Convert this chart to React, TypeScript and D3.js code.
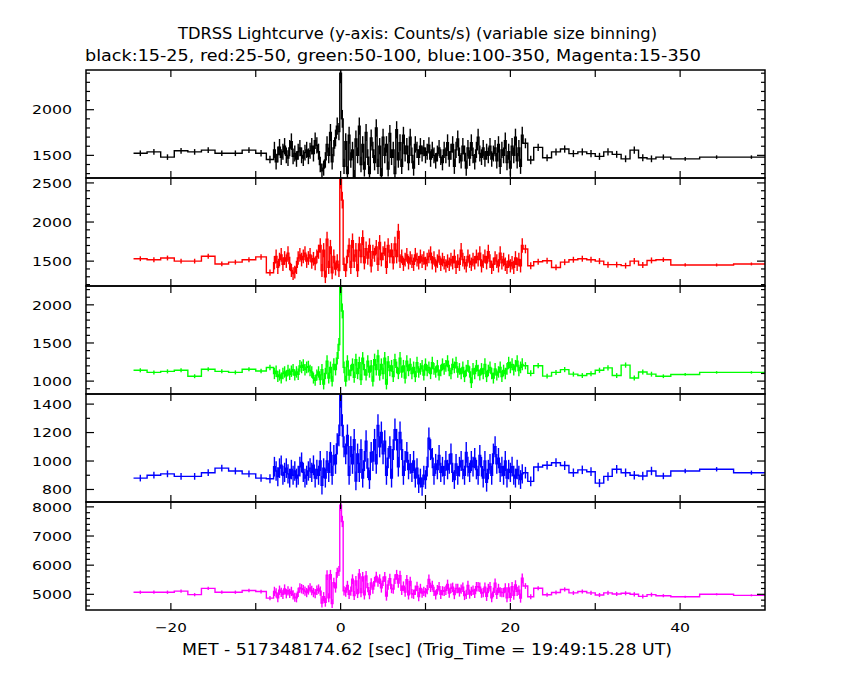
import React from 'react';
import * as d3 from 'd3';

// ---------- bin geometry (seconds from trigger) ----------
const leftEdges = [-24.4, -22.8, -21.2, -19.6, -18.0, -16.4, -14.8, -13.2, -11.6, -10.0, -8.75, -7.9];
const fineStart = -7.9;
const fineWidth = 0.2;
const fineCount = 147;
const rightEdges = [21.5, 22.05, 22.75, 23.8, 24.85, 25.9, 26.9, 27.95, 29.0, 30.0, 31.0, 32.0, 33.05, 34.1, 35.1, 36.1, 37.15, 38.9, 42.3, 46.3, 50.5];

// ---------- rates (counts/s) ----------
const blackLeft = [1523, 1538, 1481, 1550, 1538, 1557, 1523, 1523, 1557, 1523, 1455];
const blackFine = [
  1560, 1430, 1510, 1590, 1480, 1540, 1600, 1500, 1470, 1580,
  1650, 1490, 1520, 1460, 1540, 1580, 1500, 1470, 1530, 1560,
  1490, 1550, 1600, 1520, 1660, 1610, 1540, 1400, 1330, 1360,
  1450, 1620, 1500, 1750, 1430, 1580, 1690, 1820, 1760, 2400,
  1900, 1380, 1650, 1300, 1720, 1450, 1560, 1260, 1680, 1500,
  1820, 1400, 1620, 1350, 1750, 1480, 1300, 1690, 1560, 1420,
  1800, 1380, 1600, 1280, 1700, 1500, 1620, 1350, 1740, 1480,
  1560, 1300, 1780, 1450, 1640, 1380, 1720, 1520, 1600, 1420,
  1700, 1500, 1360, 1620, 1560, 1480, 1600, 1520, 1580, 1500,
  1540, 1610, 1460, 1560, 1500, 1440, 1520, 1580, 1480, 1420,
  1560, 1500, 1640, 1460, 1540, 1620, 1380, 1560, 1680, 1500,
  1440, 1600, 1520, 1360, 1580, 1470, 1640, 1500, 1430, 1560,
  1700, 1520, 1480, 1580, 1460, 1540, 1500, 1600, 1460, 1520,
  1580, 1440, 1620, 1380, 1560, 1500, 1660, 1420, 1540, 1360,
  1600, 1500, 1700, 1440, 1580, 1380, 1720,
];
const blackRight = [1632, 1449, 1588, 1473, 1538, 1569, 1519, 1538, 1519, 1489, 1538, 1511, 1462, 1557, 1473, 1462, 1481, 1462, 1481, 1481];

const redLeft = [1531, 1518, 1540, 1500, 1500, 1563, 1464, 1487, 1518, 1554, 1352];
const redFine = [
  1480, 1560, 1420, 1520, 1580, 1460, 1540, 1500, 1600, 1470,
  1380, 1340, 1360, 1420, 1540, 1580, 1520, 1560, 1600, 1500,
  1540, 1580, 1490, 1530, 1470, 1560, 1620, 1700, 1380, 1640,
  1300, 1780, 1420, 1680, 1350, 1560, 1400, 1500, 1380, 2540,
  2280, 1460, 1380, 1560, 1700, 1420, 1760, 1500, 1640, 1380,
  1720, 1560, 1800, 1480, 1660, 1540, 1700, 1440, 1620, 1580,
  1680, 1460, 1740, 1520, 1600, 1660, 1420, 1700, 1560, 1640,
  1480, 1720, 1560, 1880, 1500, 1560, 1460, 1520, 1580, 1480,
  1540, 1500, 1460, 1580, 1520, 1480, 1560, 1500, 1540, 1470,
  1520, 1560, 1600, 1480, 1540, 1440, 1500, 1560, 1460, 1520,
  1480, 1440, 1500, 1460, 1520, 1480, 1560, 1420, 1500, 1460,
  1640, 1520, 1480, 1440, 1560, 1500, 1460, 1520, 1480, 1560,
  1520, 1600, 1440, 1500, 1560, 1480, 1620, 1500, 1420, 1460,
  1540, 1500, 1440, 1600, 1480, 1520, 1460, 1420, 1500, 1440,
  1480, 1420, 1540, 1460, 1520, 1440, 1700,
];
const redRight = [1655, 1441, 1493, 1505, 1419, 1487, 1518, 1531, 1518, 1500, 1455, 1455, 1442, 1500, 1451, 1509, 1518, 1451, 1451, 1464];

const greenLeft = [1142, 1114, 1128, 1142, 1064, 1155, 1128, 1114, 1155, 1132, 1178];
const greenFine = [
  1100, 1130, 1060, 1080, 1040, 1100, 1120, 1070, 1140, 1090,
  1130, 1150, 1080, 1120, 1090, 1200, 1180, 1210, 1150, 1180,
  1190, 1140, 1120, 1040, 1010, 1080, 1120, 1020, 1150, 960,
  1100, 1260, 1040, 1180, 1000, 1220, 1150, 1300, 1480, 2230,
  1920, 1180, 1000, 1260, 1080, 1140, 1220, 1050, 1280, 1100,
  1240, 1020, 1300, 1150, 1080, 1260, 1120, 1200, 1000, 1280,
  1150, 1330, 1080, 1220, 1100, 1300, 960, 1250, 1140, 1200,
  1060, 1280, 1180, 1100, 1300, 1120, 1200, 1040, 1260, 1140,
  1220, 1100, 1180, 1060, 1240, 1120, 1160, 1200, 1080, 1220,
  1140, 1180, 1100, 1240, 1160, 1120, 1200, 1080, 1140, 1220,
  1160, 1200, 1260, 1140, 1100, 1220, 1180, 1240, 1120, 1160,
  1100, 1180, 1060, 1140, 1200, 1120, 980, 1160, 1100, 1200,
  1140, 1080, 1160, 1100, 1220, 1060, 1140, 1180, 1100, 1040,
  1160, 1080, 1120, 1180, 1060, 1140, 1100, 1160, 1240, 1180,
  1220, 1150, 1200, 1260, 1140, 1180, 1220,
];
const greenRight = [1202, 1102, 1202, 1066, 1114, 1151, 1091, 1073, 1096, 1142, 1174, 1073, 1210, 1041, 1119, 1091, 1064, 1087, 1114, 1114];

const blueLeft = [880, 900, 910, 892, 892, 918, 950, 930, 910, 880, 875];
const blueFine = [
  960, 930, 890, 950, 970, 900, 920, 950, 910, 880,
  940, 900, 930, 880, 900, 960, 990, 920, 880, 900,
  930, 950, 920, 970, 880, 940, 900, 1000, 830, 950,
  880, 1000, 920, 1060, 900, 1040, 980, 1120, 1180, 1460,
  1250, 1100, 1050, 1180, 900, 1100, 980, 1150, 860, 1050,
  920, 1080, 880, 1000, 1140, 950, 870, 1060, 1000, 1150,
  980, 1250, 1100, 1200, 1050, 1140, 900, 1020, 1100, 880,
  1080, 1220, 1150, 960, 1200, 1080, 900, 1000, 1060, 940,
  980, 920, 1000, 880, 950, 840, 880, 820, 900, 870,
  960, 1160, 1080, 1020, 900, 980, 940, 1040, 920, 960,
  900, 1000, 940, 980, 1050, 920, 870, 980, 900, 960,
  1000, 940, 900, 1060, 960, 920, 1000, 960, 1020, 940,
  900, 1040, 960, 880, 1000, 850, 940, 980, 900, 1050,
  1100, 980, 1020, 920, 960, 900, 1000, 880, 940, 920,
  960, 900, 880, 940, 900, 870, 910,
];
const blueRight = [918, 857, 958, 970, 988, 968, 918, 938, 925, 845, 892, 942, 918, 900, 895, 930, 895, 930, 942, 918];

const magentaLeft = [5072, 5072, 5072, 5108, 4988, 5203, 5072, 5072, 5131, 5096, 4868];
const magentaFine = [
  5100, 5050, 4880, 5140, 5070, 5000, 5180, 5020, 5120, 5030,
  5100, 4980, 4900, 4880, 5070, 5220, 5190, 5160, 5110, 5060,
  5150, 5220, 5130, 5060, 5020, 5140, 5180, 5110, 4700, 4920,
  4730, 5660, 4880, 5670, 4680, 5400, 5220, 5740, 5800, 8060,
  7500, 5120, 5080, 5300, 5000, 5110, 5520, 4960, 5460, 5030,
  5700, 5060, 5600, 4980, 5630, 5230, 4990, 5390, 5180, 5430,
  5610, 5420, 5520, 5220, 5450, 5600, 4940, 5320, 5540, 5200,
  5180, 5520, 5670, 5390, 5640, 5140, 5280, 5080, 5500, 4980,
  5440, 5020, 5000, 5140, 5270, 4920, 5200, 5040, 5100, 5060,
  5160, 5510, 5240, 5300, 5100, 4980, 5160, 5260, 5000, 5120,
  5100, 5140, 5340, 5040, 5210, 5240, 4990, 5200, 5200, 5080,
  5180, 5240, 4960, 5000, 5300, 5010, 5100, 5140, 5030, 5260,
  5260, 5240, 5040, 5060, 5240, 4930, 5200, 5260, 4880, 5070,
  5380, 5000, 5200, 5080, 5060, 5060, 5220, 4880, 5220, 4900,
  5260, 4970, 5320, 5100, 5140, 4870, 5550,
];
const magentaRight = [5285, 4918, 5206, 4985, 5060, 5167, 5048, 5096, 5048, 4976, 5048, 5012, 5036, 5000, 4928, 4988, 4952, 4916, 5000, 4964];

// ---------- axes ----------
const xDomain: [number, number] = [-30, 50];
const xTickValues = [-20, -10, 0, 10, 20, 30, 40];
const xTickLabels = [-20, 0, 20, 40];
const panelDomains: [number, number][] = [[1252, 2435], [1182, 2563], [831, 2247], [712, 1471], [4462, 8167]];
const panelMajor = [500, 500, 500, 200, 1000];
const panelMinor = [100, 100, 100, 100, 200];
const panelColors = ['#000000', '#ff0000', '#00ff00', '#0000ff', '#ff00ff'];

const titleText = 'TDRSS Lightcurve (y-axis: Counts/s) (variable size binning)';
const subtitleText = 'black:15-25, red:25-50, green:50-100, blue:100-350, Magenta:15-350';
const xTitleText = 'MET - 517348174.62 [sec] (Trig_Time = 19:49:15.28 UT)';

// ---------- layout ----------
const W = 850, H = 680;
const PX0 = 86, PX1 = 765;
const PTOP = 70, PH = 108;
const FONT = 'DejaVu Sans, Verdana, sans-serif';

function buildEdges(): number[] {
  const fine: number[] = [];
  for (let i = 0; i <= fineCount; i++) fine.push(+(fineStart + i * fineWidth).toFixed(3));
  return [...leftEdges.slice(0, -1), ...fine.slice(0, -1), ...rightEdges];
}

export default function App() {
  const edges = buildEdges();
  const series = [
    [...blackLeft, ...blackFine, ...blackRight],
    [...redLeft, ...redFine, ...redRight],
    [...greenLeft, ...greenFine, ...greenRight],
    [...blueLeft, ...blueFine, ...blueRight],
    [...magentaLeft, ...magentaFine, ...magentaRight],
  ];
  const x = d3.scaleLinear().domain(xDomain).range([PX0, PX1]);
  const lw = 1.4;

  return (
    <svg width={W} height={H} viewBox={`0 0 ${W} ${H}`}
      style={{ position: 'absolute', left: 0, top: 0, background: '#fff' }}>
      <rect x={0} y={0} width={W} height={H} fill="#fff" />
      <defs>
        {series.map((_, p) => (
          <clipPath id={`clip${p}`} key={p}>
            <rect x={PX0} y={PTOP + p * PH} width={PX1 - PX0} height={PH} />
          </clipPath>
        ))}
      </defs>
      <text x={178} y={38.5} fontFamily={FONT} fontSize={15} textLength={479} lengthAdjust="spacingAndGlyphs">{titleText}</text>
      <text x={85} y={60.5} fontFamily={FONT} fontSize={15} textLength={616} lengthAdjust="spacingAndGlyphs">{subtitleText}</text>
      {series.map((vals, p) => {
        const top = PTOP + p * PH;
        const bot = top + PH;
        const y = d3.scaleLinear().domain(panelDomains[p]).range([bot, top]);
        const pts: [number, number][] = [];
        vals.forEach((v, i) => {
          pts.push([x(edges[i]), y(v)]);
          pts.push([x(edges[i + 1]), y(v)]);
        });
        const path = d3.line()(pts) || '';
        const [d0, d1] = panelDomains[p];
        const minors = d3.range(Math.ceil(d0 / panelMinor[p]) * panelMinor[p], d1 + 0.001, panelMinor[p]);
        const majors = minors.filter(v => Math.abs(v / panelMajor[p] - Math.round(v / panelMajor[p])) < 1e-6);
        return (
          <g key={p}>
            <g clipPath={`url(#clip${p})`}>
              {vals.map((v, i) => {
                const dt = edges[i + 1] - edges[i];
                const err = Math.sqrt(Math.max(v, 0) / dt);
                const cx = x((edges[i] + edges[i + 1]) / 2);
                return <line key={i} x1={cx} x2={cx} y1={y(v - err)} y2={y(v + err)} stroke={panelColors[p]} strokeWidth={lw} />;
              })}
              <path d={path} fill="none" stroke={panelColors[p]} strokeWidth={lw} />
            </g>
            {/* y ticks */}
            {minors.map(v => {
              const isMaj = majors.includes(v);
              const len = isMaj ? 8 : 4;
              const yy = y(v);
              return (
                <g key={v}>
                  <line x1={PX0} x2={PX0 + len} y1={yy} y2={yy} stroke="#000" strokeWidth={1.2} />
                  <line x1={PX1} x2={PX1 - len} y1={yy} y2={yy} stroke="#000" strokeWidth={1.2} />
                </g>
              );
            })}
            {majors.map(v => (
              <text key={`l${v}`} x={72} y={y(v) + 4.7} textAnchor="end" fontFamily={FONT} fontSize={13}
                textLength={String(v).length * 10} lengthAdjust="spacingAndGlyphs">{v}</text>
            ))}
            {/* x ticks */}
            {xTickValues.map(v => (
              <g key={`x${v}`}>
                <line x1={x(v)} x2={x(v)} y1={top} y2={top + 7} stroke="#000" strokeWidth={1.2} />
                <line x1={x(v)} x2={x(v)} y1={bot} y2={bot - 7} stroke="#000" strokeWidth={1.2} />
              </g>
            ))}
            <rect x={PX0} y={top} width={PX1 - PX0} height={PH} fill="none" stroke="#000" strokeWidth={1.5} />
          </g>
        );
      })}
      {xTickLabels.map(v => {
        const s = v < 0 ? `\u2212${Math.abs(v)}` : String(v);
        const len = v < 0 ? 32 : String(v).length * 10;
        return (
          <text key={v} x={x(v)} y={632} textAnchor="middle" fontFamily={FONT} fontSize={13}
            textLength={len} lengthAdjust="spacingAndGlyphs">{s}</text>
        );
      })}
      <text x={182} y={655} fontFamily={FONT} fontSize={15} textLength={490} lengthAdjust="spacingAndGlyphs">{xTitleText}</text>
    </svg>
  );
}
